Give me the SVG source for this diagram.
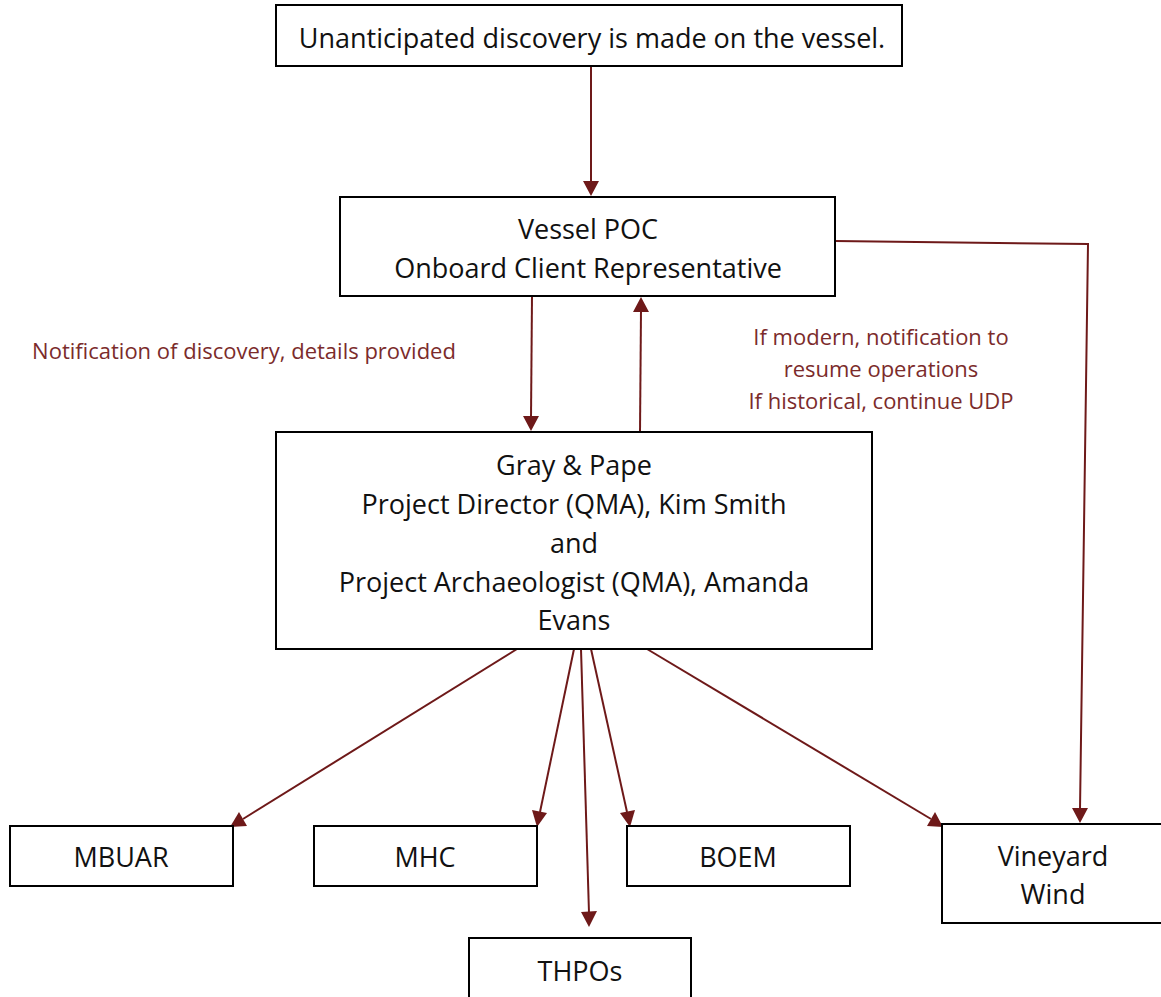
<svg xmlns="http://www.w3.org/2000/svg" width="1161" height="997" viewBox="0 0 1161 997">
<style>
.box{fill:#fff;stroke:#000;stroke-width:2}
.t{font-family:"Open Sans","Noto Sans",sans-serif;font-size:27px;fill:#111;text-anchor:middle}
.lbl{font-family:"Open Sans","Noto Sans",sans-serif;font-size:22px;fill:#7b2b2b;text-anchor:middle}
</style>
<rect width="1161" height="997" fill="#fff"/>
<g id="connectors">
<line x1="591" y1="66" x2="591" y2="183" stroke="#6e1919" stroke-width="2"/>
<path d="M583,181 L599,181 L591,196 z" fill="#6e1919"/>
<line x1="532" y1="296" x2="531" y2="418" stroke="#6e1919" stroke-width="2"/>
<path d="M523,416 L539,416 L531,431 z" fill="#6e1919"/>
<line x1="640" y1="432" x2="641" y2="310" stroke="#6e1919" stroke-width="2"/>
<path d="M633,312 L649,312 L641,297 z" fill="#6e1919"/>
<polyline points="835,241 1088,244 1080,810" stroke="#6e1919" stroke-width="2" fill="none"/>
<path d="M1072,808 L1088,808 L1080,823 z" fill="#6e1919"/>
<g stroke="#6e1919" stroke-width="2" fill="none">
<line x1="517" y1="649" x2="243" y2="819"/>
<line x1="574" y1="649" x2="540" y2="812"/>
<line x1="581" y1="649" x2="589" y2="913"/>
<line x1="591" y1="649" x2="627" y2="812"/>
<line x1="647" y1="649" x2="931" y2="819"/>
</g>
<g fill="#6e1919">
<path d="M230,827 L239,812 L247,826 z"/>
<path d="M537,827 L532,810 L547,813 z"/>
<path d="M589,927 L581,912 L597,911 z"/>
<path d="M630,827 L620,813 L635,810 z"/>
<path d="M943,827 L927,826 L935,812 z"/>
</g>
</g>
<g id="n-top">
<rect class="box" x="276" y="5" width="626" height="61"/>
<text class="t" x="592" y="48">Unanticipated discovery is made on the vessel.</text>
</g>
<g id="n-vessel">
<rect class="box" x="340" y="197" width="495" height="99"/>
<text class="t" x="588" y="239">Vessel POC</text>
<text class="t" x="588" y="278">Onboard Client Representative</text>
</g>
<g id="lbl-left">
<text class="lbl" x="244" y="359">Notification of discovery, details provided</text>
</g>
<g id="lbl-right">
<text class="lbl" x="881" y="345">If modern, notification to</text>
<text class="lbl" x="881" y="377">resume operations</text>
<text class="lbl" x="881" y="409">If historical, continue UDP</text>
</g>
<g id="n-graypape">
<rect class="box" x="276" y="432" width="596" height="217"/>
<text class="t" x="574" y="475">Gray &amp; Pape</text>
<text class="t" x="574" y="514">Project Director (QMA), Kim Smith</text>
<text class="t" x="574" y="553">and</text>
<text class="t" x="574" y="592">Project Archaeologist (QMA), Amanda</text>
<text class="t" x="574" y="630">Evans</text>
</g>
<g id="n-mbuar">
<rect class="box" x="10" y="826" width="223" height="60"/>
<text class="t" x="121" y="867">MBUAR</text>
</g>
<g id="n-mhc">
<rect class="box" x="314" y="826" width="223" height="60"/>
<text class="t" x="425" y="867">MHC</text>
</g>
<g id="n-boem">
<rect class="box" x="627" y="826" width="223" height="60"/>
<text class="t" x="738" y="867">BOEM</text>
</g>
<g id="n-vineyard">
<rect class="box" x="942" y="824" width="230" height="99"/>
<text class="t" x="1053" y="866">Vineyard</text>
<text class="t" x="1053" y="904">Wind</text>
</g>
<g id="n-thpos">
<rect class="box" x="469" y="938" width="222" height="70"/>
<text class="t" x="580" y="981">THPOs</text>
</g>
</svg>
